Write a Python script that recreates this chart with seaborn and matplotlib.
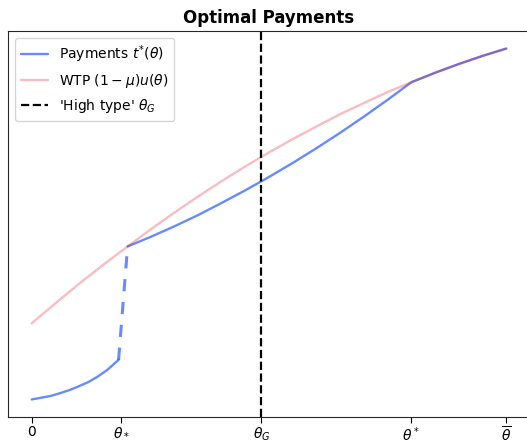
import matplotlib
matplotlib.use("Agg")
import matplotlib.pyplot as plt
import pandas as pd
import seaborn as sns

# Types (theta normalised so that theta_bar = 1)
theta_low = [0.0, 0.02, 0.04, 0.06, 0.08, 0.10, 0.12, 0.14, 0.16, 0.183]
theta_high = [0.202, 0.25, 0.30, 0.35, 0.40, 0.45, 0.50, 0.55, 0.60,
              0.65, 0.70, 0.75, 0.80, 0.85, 0.90, 0.95, 1.0]
theta_wtp = [0.0, 0.05, 0.10, 0.15, 0.202, 0.25, 0.30, 0.35, 0.40, 0.45,
             0.50, 0.55, 0.60, 0.65, 0.70, 0.75, 0.80, 0.85, 0.90, 0.95, 1.0]

# Optimal payments t*(theta): below and above the jump at theta_*
pay_low = [0.0, 0.005, 0.010, 0.018, 0.027, 0.038, 0.050, 0.066, 0.085, 0.113]
pay_high = [0.436, 0.463, 0.493, 0.525, 0.560, 0.596, 0.634, 0.674, 0.716,
            0.760, 0.806, 0.854, 0.904, 0.931, 0.956, 0.979, 1.0]

# Willingness to pay (1 - mu) u(theta)
wtp = [0.217, 0.274, 0.330, 0.383, 0.436, 0.484, 0.532, 0.578, 0.622, 0.664,
       0.704, 0.742, 0.778, 0.813, 0.845, 0.876, 0.904, 0.931, 0.956, 0.979, 1.0]

# Special types marked on the axis
tick_pos = [0.0, 0.189, 0.484, 0.8, 1.0]
tick_labels = ["0", r"$\theta_*$", r"$\theta_G$", r"$\theta^*$", r"$\overline{\theta}$"]
theta_G = 0.484

sns.set_style("ticks")
plt.rcParams["font.family"] = ["DejaVu Sans"]
plt.rcParams["text.color"] = "black"
plt.rcParams["xtick.color"] = "black"
plt.rcParams["axes.titlecolor"] = "black"

fig = plt.figure(figsize=(5.27, 4.44), dpi=100)
ax = fig.add_axes([8 / 527, 27 / 444, 522 / 527, 386 / 444])

blue = (2 / 255, 62 / 255, 255 / 255)
red = (232 / 255, 0, 11 / 255)

df_low = pd.DataFrame({"theta": theta_low, "t": pay_low})
df_high = pd.DataFrame({"theta": theta_high, "t": pay_high})
df_jump = pd.DataFrame({"theta": [theta_low[-1], theta_high[0]],
                        "t": [pay_low[-1], pay_high[0]]})
df_wtp = pd.DataFrame({"theta": theta_wtp, "w": wtp})

sns.lineplot(data=df_high, x="theta", y="t", ax=ax, color=blue, alpha=0.6,
             lw=1.7, label=r"Payments $t^{*}(\theta)$")
sns.lineplot(data=df_low, x="theta", y="t", ax=ax, color=blue, alpha=0.6,
             lw=1.7, label="_nolegend_")
sns.lineplot(data=df_jump, x="theta", y="t", ax=ax, color=blue, alpha=0.6,
             lw=2.2, linestyle=(0, (4, 3.5)), label="_nolegend_")
sns.lineplot(data=df_wtp, x="theta", y="w", ax=ax, color=red, alpha=0.26,
             lw=1.7, label=r"WTP $(1-\mu)u(\theta)$")
ax.axvline(theta_G, color="black", lw=1.6, linestyle="--",
           label=r"'High type' $\theta_G$")

ax.set_xticks(tick_pos)
ax.set_xticklabels(tick_labels, fontsize=10)
ax.tick_params(axis="x", length=4, pad=2)
ax.set_yticks([])
ax.set_xlabel("")
ax.set_ylabel("")
ax.set_title("Optimal Payments", fontsize=12, fontweight="bold")
ax.legend(loc="upper left", fontsize=10)

fig.savefig("out.png", dpi=100)
